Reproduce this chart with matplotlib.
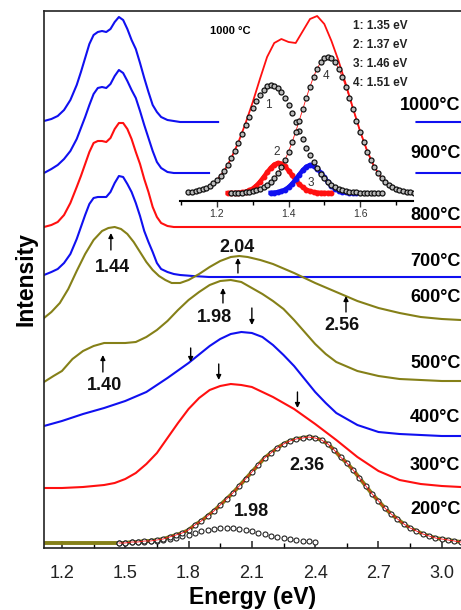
import matplotlib
matplotlib.use('Agg')
import matplotlib.pyplot as plt
import numpy as np
from matplotlib.ticker import MultipleLocator

plt.rcParams['font.family'] = ['Liberation Sans', 'DejaVu Sans']

# ---------------- main panel data (intensity above each baseline, a.u.) ----------------
e_top = [1.115, 1.15, 1.18, 1.21, 1.24, 1.27, 1.29, 1.31, 1.33, 1.35, 1.37, 1.39, 1.41, 1.43,
         1.45, 1.47, 1.49, 1.51, 1.53, 1.55, 1.57, 1.59, 1.61, 1.63, 1.65, 1.67, 1.70, 1.73,
         1.76, 1.82, 1.897, 1.94, 2.0, 2.88, 3.09]
nan = np.nan
pl_1000 = [1, 3, 6, 12, 22, 37, 50, 64, 78, 87, 90, 91, 90, 93, 100, 105, 102, 93, 82, 73,
           59, 44, 30, 17, 10, 5, 2, 1, 0, 0, 0, 0, nan, 0, 0]
pl_900 = [0, 4, 8, 14, 22, 34, 45, 56, 68, 79, 85, 86, 85, 89, 97, 103, 100, 92, 83, 75,
          62, 48, 35, 22, 11, 5, 1, 0, 0, 0, 0, nan, nan, 0, 0]
pl_800 = [0, 2, 5, 12, 24, 40, 51, 63, 75, 84, 86, 86, 85, 89, 98, 104, 104, 98, 88, 75,
          63, 48, 35, 20, 10, 4, 1, 0, 0, 0, 0, 0, 0, 0, 0]
pl_700 = [2, 5, 8, 14, 23, 38, 50, 62, 73, 79, 80, 80, 80, 85, 94, 101, 100, 93, 85, 74,
          61, 46, 35, 25, 14, 8, 5, 3, 2, 1, 0, 0, 0, 0, 0]

e_600 = [1.115, 1.15, 1.19, 1.23, 1.27, 1.31, 1.35, 1.39, 1.42, 1.45, 1.48, 1.51, 1.54, 1.57,
         1.60, 1.63, 1.66, 1.69, 1.72, 1.76, 1.80, 1.85, 1.90, 1.95, 2.00, 2.04, 2.08, 2.14,
         2.20, 2.30, 2.40, 2.50, 2.60, 2.70, 2.80, 2.90, 3.00, 3.09]
pl_600 = [2, 8, 17, 31, 49, 66, 80, 89, 92, 93, 91, 86, 78, 68, 58, 50, 44, 40, 37, 37, 40,
          46, 53, 59, 63, 64, 63, 60, 56, 47, 37, 28, 19, 12, 7, 3, 1, 0]

e_500 = [1.115, 1.16, 1.20, 1.25, 1.30, 1.35, 1.40, 1.45, 1.50, 1.55, 1.60, 1.65, 1.70, 1.75,
         1.80, 1.85, 1.90, 1.95, 2.00, 2.05, 2.10, 2.15, 2.20, 2.25, 2.30, 2.35, 2.40, 2.45, 2.50,
         2.60, 2.70, 2.80, 2.90, 3.00, 3.09]
pl_500 = [0, 6, 11, 23, 31, 36, 39, 39, 39, 40, 45, 52, 61, 72, 82, 90, 97, 101, 102, 100, 94,
          88, 81, 73, 62, 50, 38, 28, 20, 11, 6, 3, 2, 1, 1]

e_400 = [1.115, 1.20, 1.30, 1.40, 1.50, 1.60, 1.70, 1.80, 1.90, 1.95, 2.00, 2.05, 2.10, 2.15,
         2.20, 2.25, 2.30, 2.35, 2.40, 2.45, 2.50, 2.60, 2.70, 2.80, 2.90, 3.00, 3.09]
pl_400 = [10, 15, 22, 28, 35, 44, 58, 73, 90, 97, 102, 104, 103, 99, 91, 81, 70, 57, 44, 33,
          23, 11, 4, 2, 1, 0, 0]

e_300 = [1.115, 1.20, 1.30, 1.40, 1.45, 1.50, 1.55, 1.60, 1.65, 1.70, 1.75, 1.80, 1.85, 1.90,
         1.95, 2.00, 2.05, 2.10, 2.20, 2.30, 2.40, 2.50, 2.60, 2.70, 2.80, 2.90, 3.00, 3.09]
pl_300 = [0, 0, 1, 3, 5, 9, 15, 24, 35, 50, 65, 79, 90, 98, 102, 104, 103, 101, 91, 79, 64,
          48, 31, 17, 8, 4, 2, 1]

# 200 C spectrum: flat start, then the part covered by the fit circles
e_200_flat = [1.115, 1.30, 1.44]
pl_200_flat = [0, 0, 0]
e_fit = np.round(np.linspace(1.47, 3.09, 55), 2)
fit_sum = [0, 0, 1, 1, 2, 2, 3, 4, 6, 8, 10, 13, 18, 22, 27, 32, 38, 44, 50, 57,
           64, 71, 78, 85, 90, 95, 99, 102, 104, 105, 106, 105, 103, 99, 93, 86, 80, 73, 65, 57,
           49, 42, 35, 29, 24, 19, 15, 12, 9, 7, 5, 4, 3, 2, 1]
e_fit198 = np.round(np.linspace(1.47, 2.40, 32), 2)
fit_198 = [0, 0, 1, 1, 1, 2, 2, 3, 4, 5, 7, 8, 10, 12, 13, 14, 15, 15, 15, 14,
           13, 12, 10, 9, 7, 6, 5, 4, 3, 2, 2, 1]

labels = ['1000°C', '900°C', '800°C', '700°C', '600°C', '500°C', '400°C', '300°C', '200°C']
offsets = [426, 375, 321, 271, 228, 166, 112, 60, 5]
label_y = [442, 395, 333, 286, 251, 185, 131, 83, 38]

# peak positions marked with arrows
peak_text = ['1.44', '2.04', '1.98', '2.56', '1.40', '2.36', '1.98']
peak_tx = [1.437, 2.03, 1.925, 2.527, 1.404, 2.361, 2.10]
peak_ty = [280, 301, 230, 223, 162, 83, 36]
arrow_x = [1.432, 2.034, 1.963, 2.546, 1.394, 2.10, 1.81, 1.943, 2.316]
arrow_tail = [298, 275, 245, 236, 176, 240, 200, 184, 156]
arrow_tip = [315, 290, 260, 252, 193, 223, 186, 168, 140]

# ---------------- inset data (1000 C fit) ----------------
e_p1 = np.round(np.linspace(1.12, 1.66, 55), 2)
p1 = [0.8, 1.2, 1.8, 2.7, 3.8, 5.4, 7.4, 10, 13, 17, 22, 28, 35, 42, 50, 59, 68, 76, 85, 92,
      98, 103, 107, 108, 107, 105, 101, 95, 88, 80, 71, 62, 54, 45, 38, 31, 25, 19, 15, 11,
      8.4, 6.1, 4.4, 3.1, 2.1, 1.5, 1.0, 0.6, 0.4, 0.3, 0.2, 0.1, 0.1, 0, 0]
e_p2 = np.round(np.linspace(1.23, 1.52, 30), 2)
p2 = [0.0, 0.1, 0.1, 0.3, 0.7, 1.4, 2.6, 4.5, 7.4, 11.2, 15.8, 20.6, 25.1, 28.5, 30.0, 29.3,
      26.6, 22.5, 17.7, 13.0, 8.8, 5.6, 3.3, 1.8, 0.9, 0.4, 0.2, 0.1, 0.0, 0.0]
e_p3 = np.round(np.linspace(1.35, 1.59, 25), 2)
p3 = [0.2, 0.4, 0.9, 1.8, 3.4, 5.8, 9.3, 13.6, 18.4, 23.0, 26.4, 28.0, 27.3, 24.5, 20.3, 15.6,
      10.9, 7.1, 4.3, 2.3, 1.2, 0.6, 0.2, 0.1, 0.0]
e_p4 = np.round(np.linspace(1.24, 1.75, 52), 2)
p4 = [0.1, 0.2, 0.3, 0.5, 0.7, 1.2, 1.8, 2.7, 3.9, 5.6, 7.9, 11.0, 14.9, 19.8, 25.8, 33.0, 41.4,
      50.9, 61.3, 72.5, 84.0, 95.5, 106.3, 116.2, 124.5, 130.7, 134.7, 136, 134.7, 130.7, 124.5,
      116.2, 106.3, 95.5, 84.0, 72.5, 61.3, 50.9, 41.4, 33.0, 25.8, 19.8, 14.9, 11.0, 7.9, 5.6,
      3.9, 2.7, 1.8, 1.2, 0.7, 0.5]
e_tot = np.round(np.linspace(1.20, 1.74, 28), 2)
pl_1000_in = [13, 22, 35, 51, 70, 91, 114, 136, 150, 154, 151, 150, 162, 174, 177, 169, 152, 132,
              109, 85, 62, 42, 26, 15, 8, 4, 2, 1]
fit_lines = ['1: 1.35 eV', '2: 1.37 eV', '3: 1.46 eV', '4: 1.51 eV']
peak_no = ['1', '2', '3', '4']
peak_no_x = [1.343, 1.368, 1.463, 1.505]
peak_no_y = [88, 41, 10, 117]

BLUE = '#1010f0'
RED = '#ff1010'
OLIVE = '#858018'

W, H = 461, 610
fig = plt.figure(figsize=(W / 100, H / 100), dpi=100)
ax = fig.add_axes([44 / W, (H - 548) / H, (W - 44) / W, 537 / H])

#stacked spectra
ax.plot(e_top, np.array(pl_1000) + offsets[0], color=BLUE, lw=1.5)
ax.plot(e_top, np.array(pl_900) + offsets[1], color=BLUE, lw=1.5)
ax.plot(e_top, np.array(pl_800) + offsets[2], color=RED, lw=1.5)
ax.plot(e_top, np.array(pl_700) + offsets[3], color=BLUE, lw=1.5)
ax.plot(e_600, np.array(pl_600) + offsets[4], color=OLIVE, lw=1.5)
ax.plot(e_500, np.array(pl_500) + offsets[5], color=OLIVE, lw=1.5)
ax.plot(e_400, np.array(pl_400) + offsets[6], color=BLUE, lw=1.5)
ax.plot(e_300, np.array(pl_300) + offsets[7], color=RED, lw=1.5)

e200 = np.concatenate([e_200_flat, e_fit])
pl200 = np.concatenate([pl_200_flat, fit_sum]) + offsets[8]
ax.plot(e200, pl200, color=OLIVE, lw=2.8)
ax.plot(e_fit198, np.array(fit_198) + offsets[8], 'o', ms=3.6, mfc='white', mec='#222222', mew=0.8)
ax.plot(e_fit, np.array(fit_sum) + offsets[8], 'o', ms=3.6, mfc='white', mec='#222222', mew=0.8)
ax.plot(e_fit, np.array(fit_sum) + offsets[8], color=RED, lw=0.6)

for lab, ly in zip(labels, label_y):
    ax.text(3.088, ly, lab, ha='right', va='center', fontsize=13, fontweight='bold')

for t, tx, ty in zip(peak_text, peak_tx, peak_ty):
    ax.text(tx, ty, t, ha='center', va='center', fontsize=13, fontweight='bold', color='#111111')

for x, a, b in zip(arrow_x, arrow_tail, arrow_tip):
    ax.annotate('', xy=(x, b), xytext=(x, a),
                arrowprops=dict(arrowstyle='-|>', color='black', lw=1.0,
                                mutation_scale=7, shrinkA=0, shrinkB=0))

ax.set_xlim(1.115, 3.091)
ax.set_ylim(0, 537)
ax.set_yticks([])
ax.xaxis.set_minor_locator(MultipleLocator(0.15))
ax.set_xticks([1.2, 1.5, 1.8, 2.1, 2.4, 2.7, 3.0])
ax.set_xticklabels(['1.2', '1.5', '1.8', '2.1', '2.4', '2.7', '3.0'])
ax.tick_params(axis='x', which='major', direction='in', length=5, width=1.1,
               labelsize=13, pad=12, colors='#222222')
ax.tick_params(axis='x', which='minor', direction='in', length=3.5, width=1.0)
ax.spines['right'].set_visible(False)
for s in ['left', 'top', 'bottom']:
    ax.spines[s].set_linewidth(1.2)
    ax.spines[s].set_color('#222222')
ax.set_xlabel('Energy (eV)', fontsize=16.5, fontweight='bold', labelpad=3)
ax.set_ylabel('Intensity', fontsize=16.5, fontweight='bold', labelpad=5)

#inset
ins = fig.add_axes([180 / W, (H - 201) / H, 233 / W, 190 / H])
ins.patch.set_alpha(0)
ins.plot(e_tot, pl_1000_in, color=RED, lw=1.3, zorder=1)
ins.plot(e_p2, p2, color=RED, lw=3.2, marker='o', ms=3.2, mfc=RED, mec=RED, zorder=2)
ins.plot(e_p3, p3, color=BLUE, lw=3.2, marker='o', ms=3.2, mfc=BLUE, mec=BLUE, zorder=2)
ins.plot(e_p1, p1, 'o', ms=3.6, mfc='#bbbbbb', mec='#111111', mew=0.9, zorder=3)
ins.plot(e_p4, p4, 'o', ms=3.6, mfc='#bbbbbb', mec='#111111', mew=0.9, zorder=3)
ins.plot(e_p4, p4, color=RED, lw=0.6, zorder=2.5)

ins.text(1.236, 162, '1000 °C', ha='center', va='center', fontsize=8, fontweight='bold')
for i, t in enumerate(fit_lines):
    ins.text(1.58, 167 - 19 * i, t, ha='left', va='center', fontsize=8.5, fontweight='bold',
             color='#222222')
for t, px, py in zip(peak_no, peak_no_x, peak_no_y):
    ins.text(px, py, t, ha='center', va='center', fontsize=8.5, color='#333333')

ins.set_xlim(1.0965, 1.748)
ins.set_ylim(-8, 182)
ins.set_yticks([])
ins.xaxis.set_major_locator(MultipleLocator(0.2))
ins.xaxis.set_minor_locator(MultipleLocator(0.1))
ins.tick_params(axis='x', which='major', direction='out', length=4, width=1.0,
                labelsize=7.5, pad=2, colors='#333333')
ins.tick_params(axis='x', which='minor', direction='out', length=3, width=1.0)
for s in ['left', 'right', 'top']:
    ins.spines[s].set_visible(False)
ins.spines['bottom'].set_linewidth(1.5)

fig.savefig('out.png', dpi=100)
